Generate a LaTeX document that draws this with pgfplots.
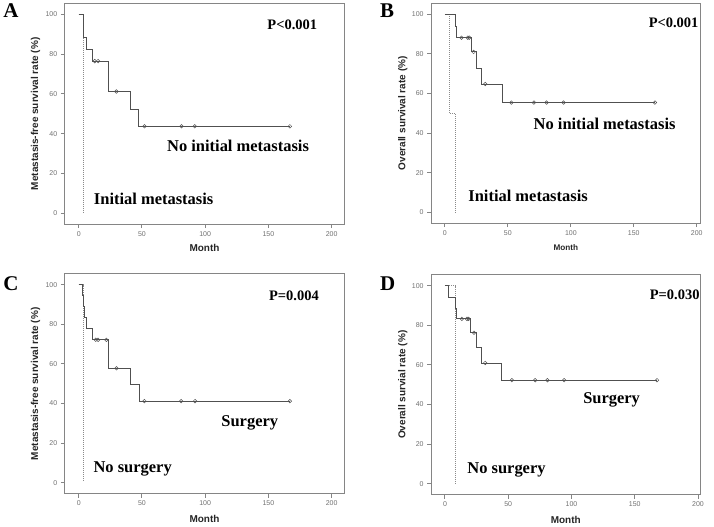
\documentclass[border=0pt]{standalone}
\usepackage{fontspec}
\setmainfont{Liberation Serif}
\setsansfont{Liberation Sans}
\usepackage{pgfplots}
\pgfplotsset{compat=1.18}
\definecolor{boxgray}{HTML}{858585}
\definecolor{tickc}{HTML}{707070}
\definecolor{solidc}{HTML}{505050}
\definecolor{dashc}{HTML}{8A8A8A}
\pgfplotsset{
  km/.style={
    scale only axis, xmin=-11, xmax=210, ymin=-5.5, ymax=105.5,
    xtick={0,50,...,200}, ytick={0,20,...,100},
    tick align=outside, xtick pos=bottom, ytick pos=left,
    major tick length=4pt,
    axis line style={boxgray, line width=1pt},
    tick style={boxgray, line width=1pt},
    tick label style={font=\sffamily\fontsize{7}{8}\selectfont, text=tickc},
    /pgf/number format/assume math mode=true,
    label style={font=\sffamily\bfseries\fontsize{10}{12}\selectfont, text=black!85},
    ylabel style={at={(axis description cs:-0.105,0.5)}, anchor=center},
    xlabel style={at={(axis description cs:0.5,-0.11)}, anchor=center},
    clip=false,
  },
  surv/.style={const plot, solidc, line width=0.9pt, no marks},
  grp2/.style={const plot, dashc, line width=0.7pt, dash pattern=on 1pt off 1pt, no marks},
  cens/.style={only marks, mark=o, mark size=1.8pt, solidc, mark options={fill=white, line width=0.5pt}},
}
\tikzset{
  big/.style={font=\bfseries\fontsize{16.5}{18}\selectfont},
  pv/.style={font=\bfseries\fontsize{14.5}{16}\selectfont},
}
\begin{document}
\begin{tikzpicture}
\path (0pt,0pt) rectangle (714pt,526pt);
% ---------------- A ----------------
\begin{axis}[km, at={(63.5pt,301.5pt)}, anchor=south west, width=280pt, height=221pt,
  xlabel={Month}, ylabel={Metastasis-free survival rate (\%)}]
\addplot[grp2] coordinates {(0,100) (3.3,0.5)};
\addplot[surv] coordinates {(0,100) (4,88.2) (6.1,82.4) (11.1,76.5) (23.4,61.2) (40.6,52.4) (47.5,43.7) (167,43.7)};
\addplot[cens] coordinates {(12.7,76.5) (15.3,76.5) (29.8,61.2) (52,43.7) (81.3,43.7) (91.8,43.7) (167,43.7)};
\node[pv] at (axis description cs:0.814,0.905) {P<0.001};
\node[big] at (axis description cs:0.62,0.353) {No initial metastasis};
\node[big] at (axis description cs:0.318,0.113) {Initial metastasis};
\end{axis}
% ---------------- B ----------------
\begin{axis}[km, at={(430.5pt,302.5pt)}, anchor=south west, width=270pt, height=220pt, xmax=203,
  xlabel={Month}, ylabel={Overall survival rate (\%)},
  xlabel style={font=\sffamily\bfseries\fontsize{8.2}{10}\selectfont}]
\addplot[grp2] coordinates {(0,100) (3.2,50) (7.9,0)};
\addplot[surv] coordinates {(0,100) (8,94.1) (9,88.2) (21,81) (25,72.9) (29,64.8) (45.4,55.4) (167,55.4)};
\addplot[cens] coordinates {(13.2,88.2) (18.2,88.2) (19.4,88.2) (22.8,81) (32,64.8) (52.8,55.4) (70.7,55.4) (80.7,55.4) (94.2,55.4) (166.8,55.4)};
\node[pv] at (axis description cs:0.9,0.914) {P<0.001};
\node[big] at (axis description cs:0.644,0.45) {No initial metastasis};
\node[big] at (axis description cs:0.36,0.123) {Initial metastasis};
\end{axis}
% ---------------- C ----------------
\begin{axis}[km, at={(63.5pt,31.5pt)}, anchor=south west, width=280pt, height=220pt,
  xlabel={Month}, ylabel={Metastasis-free survival rate (\%)},
  xlabel style={at={(axis description cs:0.5,-0.114)}}]
\addplot[grp2] coordinates {(0,100) (3.5,0.5)};
\addplot[surv] coordinates {(0,100) (3.3,94.4) (3.8,88.9) (4.3,83.3) (6.3,77.8) (11.1,72.2) (23.8,57.8) (41,49.5) (48,41.2) (167,41.2)};
\addplot[cens] coordinates {(13.5,72.2) (15.3,72.2) (21.9,72.2) (29.9,57.8) (52,41.2) (81,41.2) (92,41.2) (167,41.2)};
\node[pv] at (axis description cs:0.82,0.9) {P=0.004};
\node[big] at (axis description cs:0.662,0.32) {Surgery};
\node[big] at (axis description cs:0.243,0.11) {No surgery};
\end{axis}
% ---------------- D ----------------
\begin{axis}[km, at={(430.5pt,30.5pt)}, anchor=south west, width=270pt, height=220pt, xmax=202,
  xlabel={Month}, ylabel={Overall survial rate (\%)},
  xlabel style={at={(axis description cs:0.5,-0.114)}}]
\addplot[grp2] coordinates {(0,100) (8.2,0)};
\addplot[surv] coordinates {(0,100) (2.6,94.3) (7.9,88.7) (8.7,83.3) (20.5,76.3) (24.7,69) (28.7,61) (45,52.3) (167.6,52.3)};
\addplot[cens] coordinates {(13.4,83.3) (17.4,83.3) (18.7,83.3) (22.9,76.3) (31.8,61) (52.9,52.3) (71.3,52.3) (81,52.3) (94.2,52.3) (167.6,52.3)};
\node[pv] at (axis description cs:0.904,0.91) {P=0.030};
\node[big] at (axis description cs:0.67,0.43) {Surgery};
\node[big] at (axis description cs:0.28,0.114) {No surgery};
\end{axis}
% panel letters
\node[font=\bfseries\fontsize{21}{22}\selectfont] at (9.5pt,515pt) {A};
\node[font=\bfseries\fontsize{21}{22}\selectfont] at (386.5pt,515pt) {B};
\node[font=\bfseries\fontsize{21}{22}\selectfont] at (9.5pt,241.5pt) {C};
\node[font=\bfseries\fontsize{21}{22}\selectfont] at (387pt,242pt) {D};
\end{tikzpicture}
\end{document}
